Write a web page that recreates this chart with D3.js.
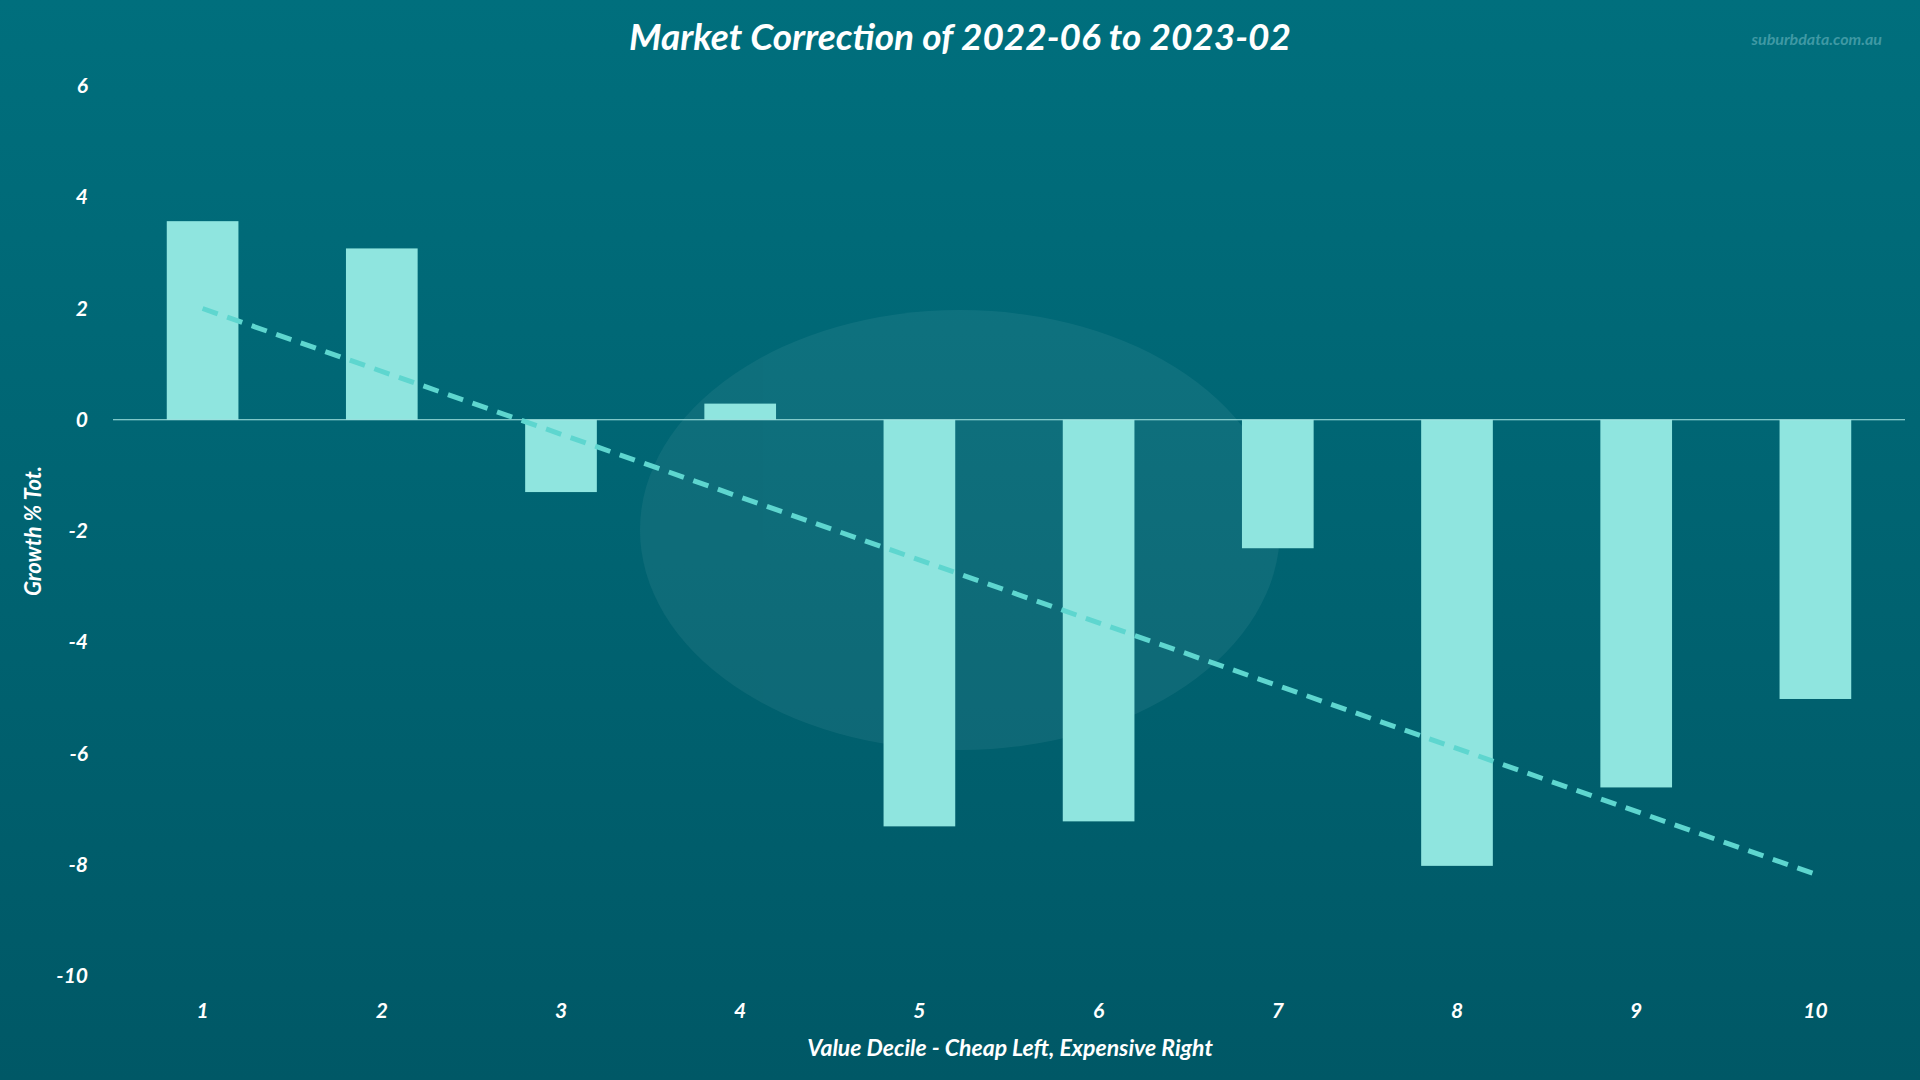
<!DOCTYPE html>
<html><head><meta charset="utf-8">
<script src="https://cdn.jsdelivr.net/npm/d3@7"></script>
<style>body{margin:0;background:#005f6d}svg{display:block}text{font-family:Lato,"Open Sans",sans-serif;font-style:italic;font-weight:bold;fill:#fff}</style>
</head><body>
<script>
const categories=["1","2","3","4","5","6","7","8","9","10"];
const values=[3.57,3.08,-1.3,0.29,-7.31,-7.22,-2.31,-8.02,-6.61,-5.02];
const yTicks=[6,4,2,0,-2,-4,-6,-8,-10];
const W=1920,H=1080;
const svg=d3.select("body").append("svg").attr("width",W).attr("height",H);
const defs=svg.append("defs");
const g=defs.append("linearGradient").attr("id","bg").attr("x1",0).attr("y1",0).attr("x2",0).attr("y2",1);
g.append("stop").attr("offset","0%").attr("stop-color","#006f7d");
g.append("stop").attr("offset","100%").attr("stop-color","#005866");
svg.append("rect").attr("width",W).attr("height",H).attr("fill","url(#bg)");
// faint watermark
const wm=svg.append("g").attr("opacity",0.07);
wm.append("ellipse").attr("cx",960).attr("cy",530).attr("rx",320).attr("ry",220).attr("fill","#c8e4e8");
wm.append("circle").attr("cx",970).attr("cy",510).attr("r",135).attr("fill","none").attr("stroke","#c8e4e8").attr("stroke-width",28);

const x=d3.scaleBand().domain(categories).range([113,1905]).paddingInner(0.6).paddingOuter(0.3);
const y=d3.scaleLinear().domain([-10,6]).range([976,86]);

svg.append("text").attr("x",960).attr("y",50).attr("text-anchor","middle").attr("font-size",37).text("Market Correction of 2022-06 to 2023-02");
svg.append("text").attr("x",1882).attr("y",45).attr("text-anchor","end").attr("font-size",16).style("fill","#3f99a4").text("suburbdata.com.au");

svg.append("g").selectAll("text").data(yTicks).join("text")
 .attr("x",88).attr("y",d=>y(d)+7).attr("text-anchor","end").attr("font-size",21).text(d=>d);
svg.append("g").selectAll("text").data(categories).join("text")
 .attr("x",d=>x(d)+x.bandwidth()/2).attr("y",1018).attr("text-anchor","middle").attr("font-size",21).text(d=>d);

svg.append("g").selectAll("rect").data(values).join("rect")
 .attr("x",(d,i)=>x(categories[i])).attr("width",x.bandwidth())
 .attr("y",d=>y(Math.max(0,d))).attr("height",d=>Math.abs(y(d)-y(0))).attr("fill","#8fe5df");

svg.append("line").attr("x1",113).attr("x2",1905).attr("y1",y(0)).attr("y2",y(0)).attr("stroke","#a8e8e4").attr("stroke-width",1.2);

const n=values.length,xs=values.map((d,i)=>i+1);
const mx=d3.mean(xs),my=d3.mean(values);
const slope=d3.sum(xs.map((xi,i)=>(xi-mx)*(values[i]-my)))/d3.sum(xs.map(xi=>(xi-mx)**2));
const icpt=my-slope*mx;
const cx=i=>x(categories[i])+x.bandwidth()/2;
svg.append("line").attr("x1",cx(0)).attr("y1",y(icpt+slope*1)).attr("x2",cx(n-1)).attr("y2",y(icpt+slope*n))
 .attr("stroke","#5ed6cf").attr("stroke-width",5).attr("stroke-dasharray","16,10");

svg.append("text").attr("transform","translate(41,531) rotate(-90)").attr("text-anchor","middle").attr("font-size",22).text("Growth % Tot.");
svg.append("text").attr("x",1010).attr("y",1056).attr("text-anchor","middle").attr("font-size",23).text("Value Decile - Cheap Left, Expensive Right");
</script></body></html>
